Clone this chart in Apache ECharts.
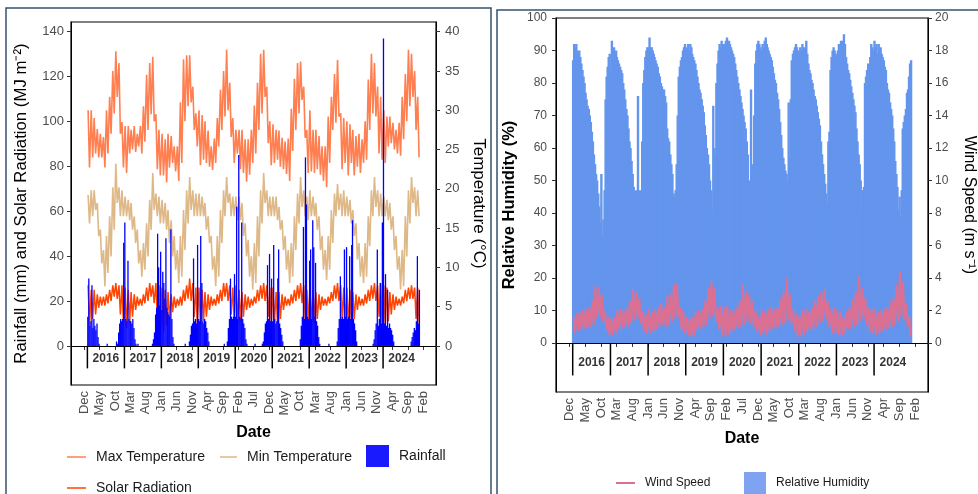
<!DOCTYPE html>
<html><head><meta charset="utf-8">
<script src="https://cdn.jsdelivr.net/npm/echarts@6/dist/echarts.min.js"></script>
<style>html,body{margin:0;padding:0;background:#fff}#c{width:978px;height:494px}</style>
</head><body><div id="c"></div>
<script>
// ---------- categories / ticks ----------
const years = [2016, 2017, 2018, 2019, 2020, 2021, 2022, 2023, 2024];
const monthNames = ['Jan','Feb','Mar','Apr','May','Jun','Jul','Aug','Sep','Oct','Nov','Dec'];
const tickDates = ['2015-12-01','2016-05-01','2016-10-01','2017-03-01','2017-08-01','2018-01-01','2018-06-01','2018-11-01','2019-04-01','2019-09-01','2020-02-01','2020-07-01','2020-12-01','2021-05-01','2021-10-01','2022-03-01','2022-08-01','2023-01-01','2023-06-01','2023-11-01','2024-04-01','2024-09-01','2025-02-01'];
const leftTicks = [0, 20, 40, 60, 80, 100, 120, 140];
const tempTicks = [0, 5, 10, 15, 20, 25, 30, 35, 40];
const rhTicks = [0, 10, 20, 30, 40, 50, 60, 70, 80, 90, 100];
const windTicks = [0, 2, 4, 6, 8, 10, 12, 14, 16, 18, 20];
const halfMonthDays = [8, 22];   // each month: high reading, then low reading
const dekadDays = [5, 15, 25];   // three readings per month

// ---------- series values ----------
// Max temperature (°C), per month: high, low
const maxTemp = [
 30,22.7, 30,24, 29,24.5, 27.6,24, 27,24, 26.6,22.7, 30,24.5, 31.7,27, 35,29.6, 37.5,31.7, 36,27, 28.5,22.7,
 28,22, 28,24.5, 27.5,25, 28,24.7, 27,25.4, 28,24.5, 30.5,26, 34.5,27.5, 36,29.5, 36.8,28.6, 29.5,22.5, 27.5,21.7,
 27,21.7, 26.3,20.8, 27,22.7, 26.7,23.3, 25.4,22.2, 25.4,21, 31,23.3, 36.5,28.6, 37,30.5, 37,31, 33,27.5, 29.6,25.4,
 30,23, 29.4,23.7, 28.6,23.3, 27.4,22.8, 25.4,22.4, 26.4,23.3, 29,25.4, 32.6,27.5, 35,29.2, 37.7,30, 33.5,26.6, 29,23.3,
 27.5,24.5, 27.5,22.5, 27.5,22, 26.3,20.9, 26.3,21.8, 27.5,23.3, 30.6,24.5, 33.5,27.5, 37.2,29.6, 37.7,31.7, 33,25.8, 28.6,23,
 28.2,23.3, 27.5,23.7, 27.4,22.8, 26.5,22.5, 26,21.9, 26.4,21, 30.2,24.8, 34,27.5, 36,29.6, 36.2,31.3, 33,26.5, 27.5,22,
 30,22.2, 27.5,22, 27.5,22.5, 26.7,21.8, 25.4,21, 25.4,20.2, 29.2,23.3, 31.7,27.5, 34.6,28.4, 36.4,29.2, 29.6,22.5, 29,23.3,
 28.6,21.7, 28.2,23.3, 27.5,21.7, 26.7,22.8, 27,22, 26.3,23.3, 28.6,23.7, 33.9,27.5, 37.2,29.6, 36,29.2, 33,24.5, 31.7,23.7,
 30,23.3, 29.2,25.4, 29.2,25.8, 28.4,25, 27.5,24.5, 28.4,24.2, 31.7,26.3, 34.6,28.6, 37.7,30.5, 37.2,31.7, 35,27.5, 31.7,24
];
// Min temperature (°C), per month: high, low
const minTemp = [
 19.2,15.6, 19.8,16.5, 19.8,17.3, 18.2,14, 14.8,10.5, 12.2,7.6, 14,9.3, 16.5,11.4, 20.2,14.8, 23.2,18.2, 20.2,16.5, 19.8,16.5,
 19,16.5, 18.6,16, 18.2,14.8, 16.5,13.1, 14.8,10.5, 12.2,8.8, 13.1,9.7, 15.6,11.4, 18.6,14.8, 22,17.3, 19.4,16.5, 19,15.6,
 18.6,15.6, 18.2,14.8, 17.3,13.1, 16,11.4, 14,9.7, 12.2,8, 14,8.8, 17.3,12.2, 19.8,15.6, 21.5,17.3, 19.8,16.5, 19.4,16.5,
 19.4,16.5, 19,16.5, 18.2,14.8, 16.5,13.1, 14,9.7, 11.4,7.6, 14,8.8, 17.3,13.1, 19.8,16.5, 21.5,18.2, 19.4,16.5, 19,16.5,
 19,16, 19,16, 18.2,14, 15.6,11.4, 13.5,8.8, 11.4,7.2, 13.1,8, 16.5,11.4, 19.8,15.6, 22,18.2, 19.8,16.5, 19,16.5,
 19,16.5, 19,16, 17.7,14.8, 16,12.2, 14,9.7, 12.2,8, 13.1,8.8, 16.5,12.2, 19.4,15.6, 21.5,17.7, 19.8,16.5, 19,16,
 19.8,16.5, 19,16.5, 18.2,14.8, 16.5,12.2, 14,9.7, 12.2,8.4, 14,9.7, 17.3,13.1, 19.4,16.5, 20.6,17.3, 19.4,16.5, 19.8,16.5,
 19,16.5, 18.6,15.6, 17.3,14, 15.6,11, 13.1,8.8, 11.4,8, 13.1,8.8, 16.5,12.7, 19.8,16.5, 21.5,17.7, 19.8,16.5, 19.4,16.5,
 19,16.5, 18.6,16, 18.2,14.8, 16.5,12.2, 14,9.7, 11.4,7.2, 12.2,7.6, 16.5,11.4, 19.8,15.6, 21.5,18.2, 20.2,16.5, 19.8,16.5
];
// Solar radiation (MJ m-2), per month: high, low
const solarRad = [
 27,9, 25,12, 25,14, 23,17, 22,18, 22,18, 23,19, 25,20, 27,22, 28,21, 27,14, 27,10,
 26,8, 25,10, 24,13, 23,16, 22,18, 21,18, 23,19, 26,20, 28,22, 27,19, 28,12, 27,9,
 26,6, 25,9, 24,12, 23,15, 22,17, 21,18, 22,18, 25,20, 27,21, 30,20, 28,13, 26,10,
 26,10, 25,11, 24,13, 23,16, 22,18, 21,18, 23,19, 25,20, 28,22, 28,20, 27,14, 26,11,
 27,10, 25,11, 24,13, 23,16, 22,17, 21,18, 22,19, 25,20, 27,21, 28,20, 27,13, 26,10,
 26,10, 24,10, 24,12, 23,16, 22,18, 21,18, 23,19, 25,20, 27,21, 28,19, 27,12, 25,11,
 26,9, 25,10, 24,12, 23,16, 22,18, 21,18, 22,19, 24,20, 27,21, 28,20, 27,12, 26,10,
 26,9, 25,10, 24,12, 23,16, 22,18, 21,18, 23,19, 25,20, 27,21, 28,20, 27,13, 28,10,
 27,9, 26,11, 24,14, 23,16, 22,18, 21,18, 22,19, 25,20, 26,21, 27,21, 26,12, 26,10
];
// Rainfall (mm), three readings per month
const rainfall = [
 13,30,9, 11,27,8, 12,9,7, 10,4,1, 0,0,0, 0,0,0, 0,1,0, 0,0,0, 0,0,0, 0,2,1, 6,10,12, 11,12,46,
 55,12,11, 38,12,11, 11,10,12, 8,3,1, 0,1,0, 0,0,0, 0,0,0, 0,0,0, 0,0,0, 1,3,6, 14,17,50, 35,18,42,
 16,33,28, 21,48,17, 15,14,13, 52,12,4, 1,0,0, 0,0,0, 0,0,0, 0,0,1, 0,0,0, 2,5,9, 10,39,11, 12,10,45,
 12,11,49, 28,11,10, 12,11,8, 6,2,0, 0,0,0, 0,0,0, 0,0,0, 0,0,0, 0,1,0, 0,2,8, 12,30,13, 12,13,32,
 13,62,12, 85,13,12, 55,12,10, 8,3,1, 0,0,0, 0,0,0, 0,1,0, 0,0,0, 0,0,1, 2,6,10, 11,36,12, 41,11,30,
 11,45,12, 10,11,30, 43,10,8, 5,2,0, 0,0,0, 0,0,0, 0,0,0, 0,0,0, 0,0,0, 3,9,13, 53,12,84, 63,13,12,
 38,43,12, 56,44,13, 37,11,9, 4,1,0, 0,0,0, 0,0,0, 0,1,0, 0,0,0, 0,0,0, 2,8,12, 31,12,13, 12,43,13,
 44,12,13, 40,12,45, 56,12,10, 7,2,0, 0,0,0, 0,0,0, 0,0,0, 0,0,0, 0,0,1, 3,7,10, 43,9,12, 28,10,55,
 137,10,32, 9,25,8, 10,8,7, 5,2,0, 0,0,0, 0,0,0, 0,0,0, 0,0,0, 0,0,0, 2,4,6, 8,7,11, 40,10,25
];
// Relative humidity (%), three readings per month
const humidity = [
 87,92,91, 92,90,89, 90,88,86, 84,82,80, 77,75,73, 72,70,68, 65,62,58, 55,52,50, 46,42,37, 52,33,38, 47,75,82, 85,88,89,
 84,93,90, 91,89,90, 88,87,86, 85,84,83, 80,78,75, 72,70,66, 62,60,56, 52,48,46, 47,40,76, 45,47,46, 62,80,84, 88,90,91,
 91,94,91, 91,90,89, 88,87,86, 85,83,82, 80,79,78, 78,76,74, 66,63,62, 58,55,52, 46,45,47, 55,70,82, 85,87,88, 90,91,92,
 91,89,92, 90,92,91, 89,88,87, 86,84,82, 80,78,77, 75,73,71, 67,64,60, 58,55,50, 47,41,73, 60,58,80, 86,90,92, 91,93,92,
 92,91,93, 94,92,93, 92,91,90, 89,88,86, 84,82,80, 78,76,74, 72,70,68, 66,62,58, 50,42,78, 48,55,70, 86,90,92, 93,92,91,
 90,92,91, 93,94,92, 91,90,89, 88,87,85, 83,81,80, 77,75,72, 68,64,60, 57,55,53, 52,50,74, 57,75,87, 89,90,91, 92,91,90,
 89,91,90, 92,91,90, 91,93,89, 86,84,83, 81,80,78, 76,75,73, 71,69,67, 62,58,55, 52,49,46, 43,62,65, 84,88,90, 91,90,89,
 88,90,92, 91,93,92, 93,95,92, 88,86,84, 83,81,79, 77,75,73, 71,66,62, 58,55,50, 40,47,48, 80,82,84, 86,85,88, 92,91,90,
 93,91,92, 89,92,90, 91,89,88, 87,85,84, 80,78,77, 74,72,70, 66,62,56, 52,48,41, 45,39,47, 66,68,70, 72,77,78, 82,86,87
];
// Wind speed (m s-1), per month: high, low
const windSpeed = [
 1.6,0.6, 1.8,0.7, 1.9,0.8, 2.0,0.9, 2.1,0.9, 2.2,1.0, 2.6,1.1, 3.5,1.5, 3.4,1.6, 3.0,1.3, 2.0,0.8, 1.6,0.5,
 1.5,0.5, 1.6,0.6, 2.0,0.9, 2.1,0.9, 2.0,1.0, 2.1,1.0, 2.6,1.2, 3.3,1.4, 3.2,1.5, 2.8,1.2, 1.9,0.7, 1.8,0.6,
 2.1,0.6, 1.9,0.7, 2.0,0.8, 2.2,1.0, 2.4,1.1, 2.2,1.0, 2.9,1.1, 3.0,1.3, 3.6,1.5, 3.7,1.6, 2.2,0.8, 2.0,0.6,
 1.6,0.5, 1.5,0.4, 1.6,0.4, 1.9,0.8, 2.0,0.9, 2.1,1.0, 2.6,1.1, 3.4,1.5, 3.8,1.7, 3.4,1.3, 2.2,0.8, 2.3,0.4,
 2.2,0.4, 2.3,0.5, 2.0,0.7, 2.0,0.8, 2.2,0.9, 2.6,1.0, 3.6,1.1, 3.2,1.3, 3.0,1.2, 2.6,1.0, 2.0,0.7, 1.6,0.5,
 2.0,0.6, 1.9,0.5, 2.1,0.7, 2.2,0.9, 2.1,0.9, 2.2,1.0, 2.8,1.1, 3.2,1.2, 4.0,1.4, 3.0,1.2, 2.0,0.7, 1.8,0.4,
 1.7,0.4, 2.0,0.5, 2.1,0.7, 1.9,0.8, 2.2,0.9, 2.6,1.0, 2.9,1.2, 3.2,1.3, 3.3,1.5, 2.6,1.0, 2.1,0.6, 2.2,0.6,
 2.0,0.5, 1.9,0.4, 1.6,0.6, 1.9,0.8, 2.2,0.9, 2.7,1.0, 3.2,1.1, 4.1,1.3, 3.4,1.5, 2.8,1.1, 2.2,0.7, 2.1,0.6,
 2.1,0.5, 1.9,0.6, 2.0,0.7, 2.1,0.8, 2.2,0.9, 2.6,1.0, 2.8,1.1, 3.6,1.3, 4.4,1.6, 3.8,1.4, 2.4,1.0, 1.6,0.4
];

// ---------- build x positions (dates) ----------
const T0 = Date.UTC(2015, 6, 23), T1 = Date.UTC(2025, 5, 7);
const tickVals = tickDates.map(s => Date.parse(s + 'T00:00:00Z'));
function halfMonthX(i) { return Date.UTC(years[0] + Math.floor(i / 24), Math.floor(i / 2) % 12, halfMonthDays[i % 2]); }
function dekadX(i) { return Date.UTC(years[0] + Math.floor(i / 36), Math.floor(i / 3) % 12, dekadDays[i % 3]); }
const pairs = (vals, fx) => vals.map((v, i) => [fx(i), v]);
const yearStarts = years.map(y => [Date.UTC(y, 0, 1), 0]);
const yearMids = years.map(y => [Date.UTC(y, 6, 2), 0, y]);

const FONT = 'Liberation Sans, Arial, sans-serif';
function xAxisFor(g, gap) {
  return {
    type: 'value', gridIndex: g, min: T0, max: T1,
    axisLine: { show: true, lineStyle: { color: '#000', width: 1 } },
    splitLine: { show: false },
    axisTick: { show: true, customValues: tickVals, length: 4, lineStyle: { color: '#333' } },
    axisLabel: { customValues: tickVals, rotate: 90, margin: 6, color: '#4d4d4d', fontSize: 13, fontFamily: FONT,
      formatter: v => monthNames[new Date(v).getUTCMonth()] },
    name: 'Date', nameLocation: 'middle', nameGap: gap,
    nameTextStyle: { fontWeight: 'bold', fontSize: 16, color: '#000', fontFamily: FONT }
  };
}
function yAxisFor(g, pos, min, max, ticks, name, gap, rot, bold, fs, lfs, margin) {
  return {
    type: 'value', gridIndex: g, position: pos, min: min, max: max,
    axisLine: { show: true, lineStyle: { color: '#000', width: 1 } },
    splitLine: { show: false },
    axisTick: { show: true, customValues: ticks, length: 4, lineStyle: { color: '#333' } },
    axisLabel: { customValues: ticks, color: '#4d4d4d', fontSize: lfs, fontFamily: FONT, margin: margin },
    name: name, nameLocation: 'middle', nameGap: gap, nameRotate: rot,
    nameTextStyle: { fontSize: fs, color: '#000', fontFamily: FONT, fontWeight: bold ? 'bold' : 'normal' }
  };
}
function separators(xi, yi) {
  return {
    type: 'custom', xAxisIndex: xi, yAxisIndex: yi, data: yearStarts, silent: true, z: 6,
    renderItem: (p, api) => {
      const a = api.coord([api.value(0), 0]), b = api.coord([api.value(0), -10]);
      return { type: 'line', shape: { x1: a[0], y1: a[1], x2: b[0], y2: b[1] }, style: { stroke: '#000', lineWidth: 1.5 } };
    },
    markLine: { silent: true, symbol: 'none', label: { show: false }, animation: false,
      lineStyle: { color: '#000', width: 1.2, type: 'solid' }, data: [{ yAxis: 0 }] }
  };
}
function yearLabels(xi, yi, yv) {
  return {
    type: 'scatter', xAxisIndex: xi, yAxisIndex: yi, symbolSize: 1, silent: true, z: 7,
    itemStyle: { color: 'rgba(0,0,0,0)' },
    data: yearMids.map(d => [d[0], yv, d[2]]),
    label: { show: true, position: 'inside', formatter: p => String(p.value[2]),
      fontWeight: 'bold', fontSize: 12, color: '#000', fontFamily: FONT }
  };
}
function lineSeries(name, xi, yi, data, color, z, w) {
  return { name: name, type: 'line', xAxisIndex: xi, yAxisIndex: yi, data: data, showSymbol: false, symbol: 'none',
    lineStyle: { color: color, width: w }, itemStyle: { color: color }, z: z, silent: true };
}
const legTxt = { fontSize: 14, color: '#1a1a1a', fontFamily: FONT, padding: [0, 0, 0, 5] };
const legTxtR = { fontSize: 12, color: '#1a1a1a', fontFamily: FONT, padding: [0, 0, 0, 5] };
function leg(name, left, top, w, h, color, txt) {
  return { data: [{ name: name, icon: 'rect', itemStyle: { color: color } }], left: left, top: top,
    itemWidth: w, itemHeight: h, textStyle: txt, selectedMode: false, padding: 0 };
}

const option = {
  animation: false,
  backgroundColor: '#fff',
  graphic: [
    { type: 'rect', silent: true, shape: { x: 6, y: 8, width: 485, height: 520 }, style: { fill: 'none', stroke: '#34526f', lineWidth: 1.5 } },
    { type: 'rect', silent: true, shape: { x: 497, y: 10, width: 490, height: 520 }, style: { fill: 'none', stroke: '#34526f', lineWidth: 1.5 } }
  ],
  grid: [
    { left: 71, top: 22, width: 365, height: 363, show: true, borderColor: '#000', borderWidth: 1.2, backgroundColor: 'rgba(0,0,0,0)' },
    { left: 556, top: 18, width: 373, height: 374, show: true, borderColor: '#000', borderWidth: 1.2, backgroundColor: 'rgba(0,0,0,0)' }
  ],
  xAxis: [xAxisFor(0, 40), xAxisFor(1, 38)],
  yAxis: [
    yAxisFor(0, 'left', -17.4, 144.3, leftTicks, 'Rainfall (mm) and Solar Radiation (MJ m⁻²)', 41, 90, false, 16.8, 13, 7),
    yAxisFor(0, 'right', -17.4 / 3.5, 144.3 / 3.5, tempTicks, 'Temperature (°C)', 34, -90, false, 17, 13, 9),
    yAxisFor(1, 'left', -15.1, 100, rhTicks, 'Relative Humidity (%)', 38, 90, true, 16.5, 12, 9),
    yAxisFor(1, 'right', -15.1 / 5, 20, windTicks, 'Wind Speed (m s⁻¹)', 33, -90, false, 16, 12, 7)
  ],
  legend: [
    leg('Max Temperature', 67, 450, 19, 1.5, '#FF7F50', legTxt),
    leg('Min Temperature', 220, 450, 17, 1.5, '#DEB887', legTxt),
    leg('Rainfall', 366, 445, 23, 22, '#1a1aff', legTxt),
    leg('Solar Radiation', 67, 481, 19, 1.5, '#FF4500', legTxt),
    leg('Wind Speed', 616, 477, 19, 2, '#DB7093', legTxtR),
    leg('Relative Humidity', 744, 472, 22, 22, '#7FA3F0', legTxtR)
  ],
  series: [
    lineSeries('Solar Radiation', 0, 0, pairs(solarRad, halfMonthX), '#FF4500', 2, 1.5),
    lineSeries('Min Temperature', 0, 1, pairs(minTemp, halfMonthX), '#DEB887', 3, 1.6),
    lineSeries('Max Temperature', 0, 1, pairs(maxTemp, halfMonthX), '#FF7F50', 3, 1.6),
    { name: 'Rainfall', type: 'bar', xAxisIndex: 0, yAxisIndex: 0, data: pairs(rainfall, dekadX), barWidth: 1.3,
      itemStyle: { color: '#0000FF' }, z: 4, silent: true },
    separators(0, 0),
    yearLabels(0, 0, -5.8),
    { name: 'Relative Humidity', type: 'bar', xAxisIndex: 1, yAxisIndex: 2, data: pairs(humidity, dekadX), barWidth: 2.4,
      itemStyle: { color: '#6495ED' }, z: 2, silent: true },
    lineSeries('Wind Speed', 1, 3, pairs(windSpeed, halfMonthX), '#DB7093', 3, 2),
    separators(1, 2),
    yearLabels(1, 2, -6.1)
  ]
};
const chart = echarts.init(document.getElementById('c'), null, { renderer: 'canvas' });
chart.setOption(option);
</script></body></html>
